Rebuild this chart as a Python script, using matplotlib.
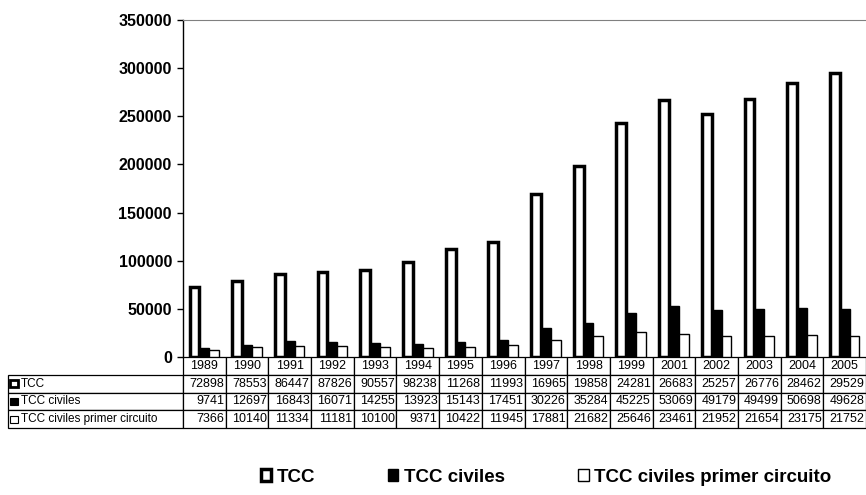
import matplotlib
matplotlib.use("Agg")
import matplotlib.pyplot as plt
import numpy as np
from matplotlib.patches import Rectangle

plt.rcParams['font.family'] = ['Liberation Sans', 'DejaVu Sans']

# data
years = ['1989', '1990', '1991', '1992', '1993', '1994', '1995', '1996',
         '1997', '1998', '1999', '2001', '2002', '2003', '2004', '2005']
tcc = [72898, 78553, 86447, 87826, 90557, 98238, 112680, 119930,
       169650, 198580, 242810, 266830, 252570, 267760, 284620, 295290]
tcc_civiles = [9741, 12697, 16843, 16071, 14255, 13923, 15143, 17451,
               30226, 35284, 45225, 53069, 49179, 49499, 50698, 49628]
tcc_primer = [7366, 10140, 11334, 11181, 10100, 9371, 10422, 11945,
              17881, 21682, 25646, 23461, 21952, 21654, 23175, 21752]
series_names = ['TCC', 'TCC civiles', 'TCC civiles primer circuito']
yticks = [0, 50000, 100000, 150000, 200000, 250000, 300000, 350000]

W, H = 866, 495
fig = plt.figure(figsize=(W / 100, H / 100), dpi=100)
ax_left, ax_bottom, ax_top = 183, 357, 20
ax = fig.add_axes([ax_left / W, (H - ax_bottom) / H, 1 - ax_left / W,
                   (ax_bottom - ax_top) / H])

x = np.arange(len(years))
bw = 0.23
ax.bar(x - bw, tcc, bw, facecolor='white', edgecolor='black', linewidth=2.5)
ax.bar(x, tcc_civiles, bw, facecolor='black', edgecolor='black', linewidth=1)
ax.bar(x + bw, tcc_primer, bw, facecolor='white', edgecolor='black', linewidth=1)

ax.set_xlim(-0.5, len(years) - 0.5)
ax.set_ylim(0, 350000)
ax.set_yticks(yticks)
ax.set_yticklabels([str(v) for v in yticks], fontsize=11.5, fontweight='bold')
ax.tick_params(axis='y', length=4, width=1, pad=4)
ax.set_xticks([])
ax.spines['right'].set_visible(False)
ax.spines['bottom'].set_visible(False)
ax.spines['top'].set_color('#808080')
ax.spines['left'].set_linewidth(1)

# data table under the plot
axw_px = W - ax_left
axh_px = ax_bottom - ax_top
label_w = ax_left - 8
col_w = axw_px / len(years)
total_w = label_w + axw_px
rows = [[''] + years]
for vals in (tcc, tcc_civiles, tcc_primer):
    rows.append([''] + [str(v)[:5] for v in vals])
table_h = (428 - ax_bottom) / axh_px
tbl = ax.table(cellText=rows,
               colWidths=[label_w / total_w] + [col_w / total_w] * len(years),
               bbox=[-label_w / axw_px, -table_h, total_w / axw_px, table_h])
tbl.auto_set_font_size(False)
tbl.set_fontsize(9)
for (r, c), cell in tbl.get_celld().items():
    cell.set_linewidth(0.9)
    cell.PAD = 0.04
    if r == 0 and c == 0:
        cell.visible_edges = ''
    elif r == 0:
        cell.get_text().set_ha('center')
    elif c > 0:
        cell.get_text().set_ha('right')

# row labels with markers
marker_styles = [dict(facecolor='white', lw=2.0),
                 dict(facecolor='black', lw=0.8),
                 dict(facecolor='white', lw=0.8)]
row_h = table_h / 4
for i, (name, st) in enumerate(zip(series_names, marker_styles)):
    yc = -row_h * (i + 1.5)
    xm = (10 - ax_left) / axw_px
    ax.add_patch(Rectangle((xm, yc - 3.5 / axh_px), 8 / axw_px, 7 / axh_px,
                           transform=ax.transAxes, clip_on=False,
                           edgecolor='black', **st))
    ax.text((21 - ax_left) / axw_px, yc, name, transform=ax.transAxes,
            ha='left', va='center', fontsize=8.5)

# legend
handles = [Rectangle((0, 0), 1, 1, facecolor='white', edgecolor='black', lw=2.5),
           Rectangle((0, 0), 1, 1, facecolor='black', edgecolor='black', lw=1),
           Rectangle((0, 0), 1, 1, facecolor='white', edgecolor='black', lw=1)]
fig.legend(handles, series_names, loc='center', bbox_to_anchor=(546 / W, 1 - 477 / H),
           ncol=3, frameon=False, prop={'weight': 'bold', 'size': 13.5},
           handlelength=0.55, handleheight=0.55, handletextpad=0.3,
           columnspacing=3.9)

fig.savefig('out.png', dpi=100)
